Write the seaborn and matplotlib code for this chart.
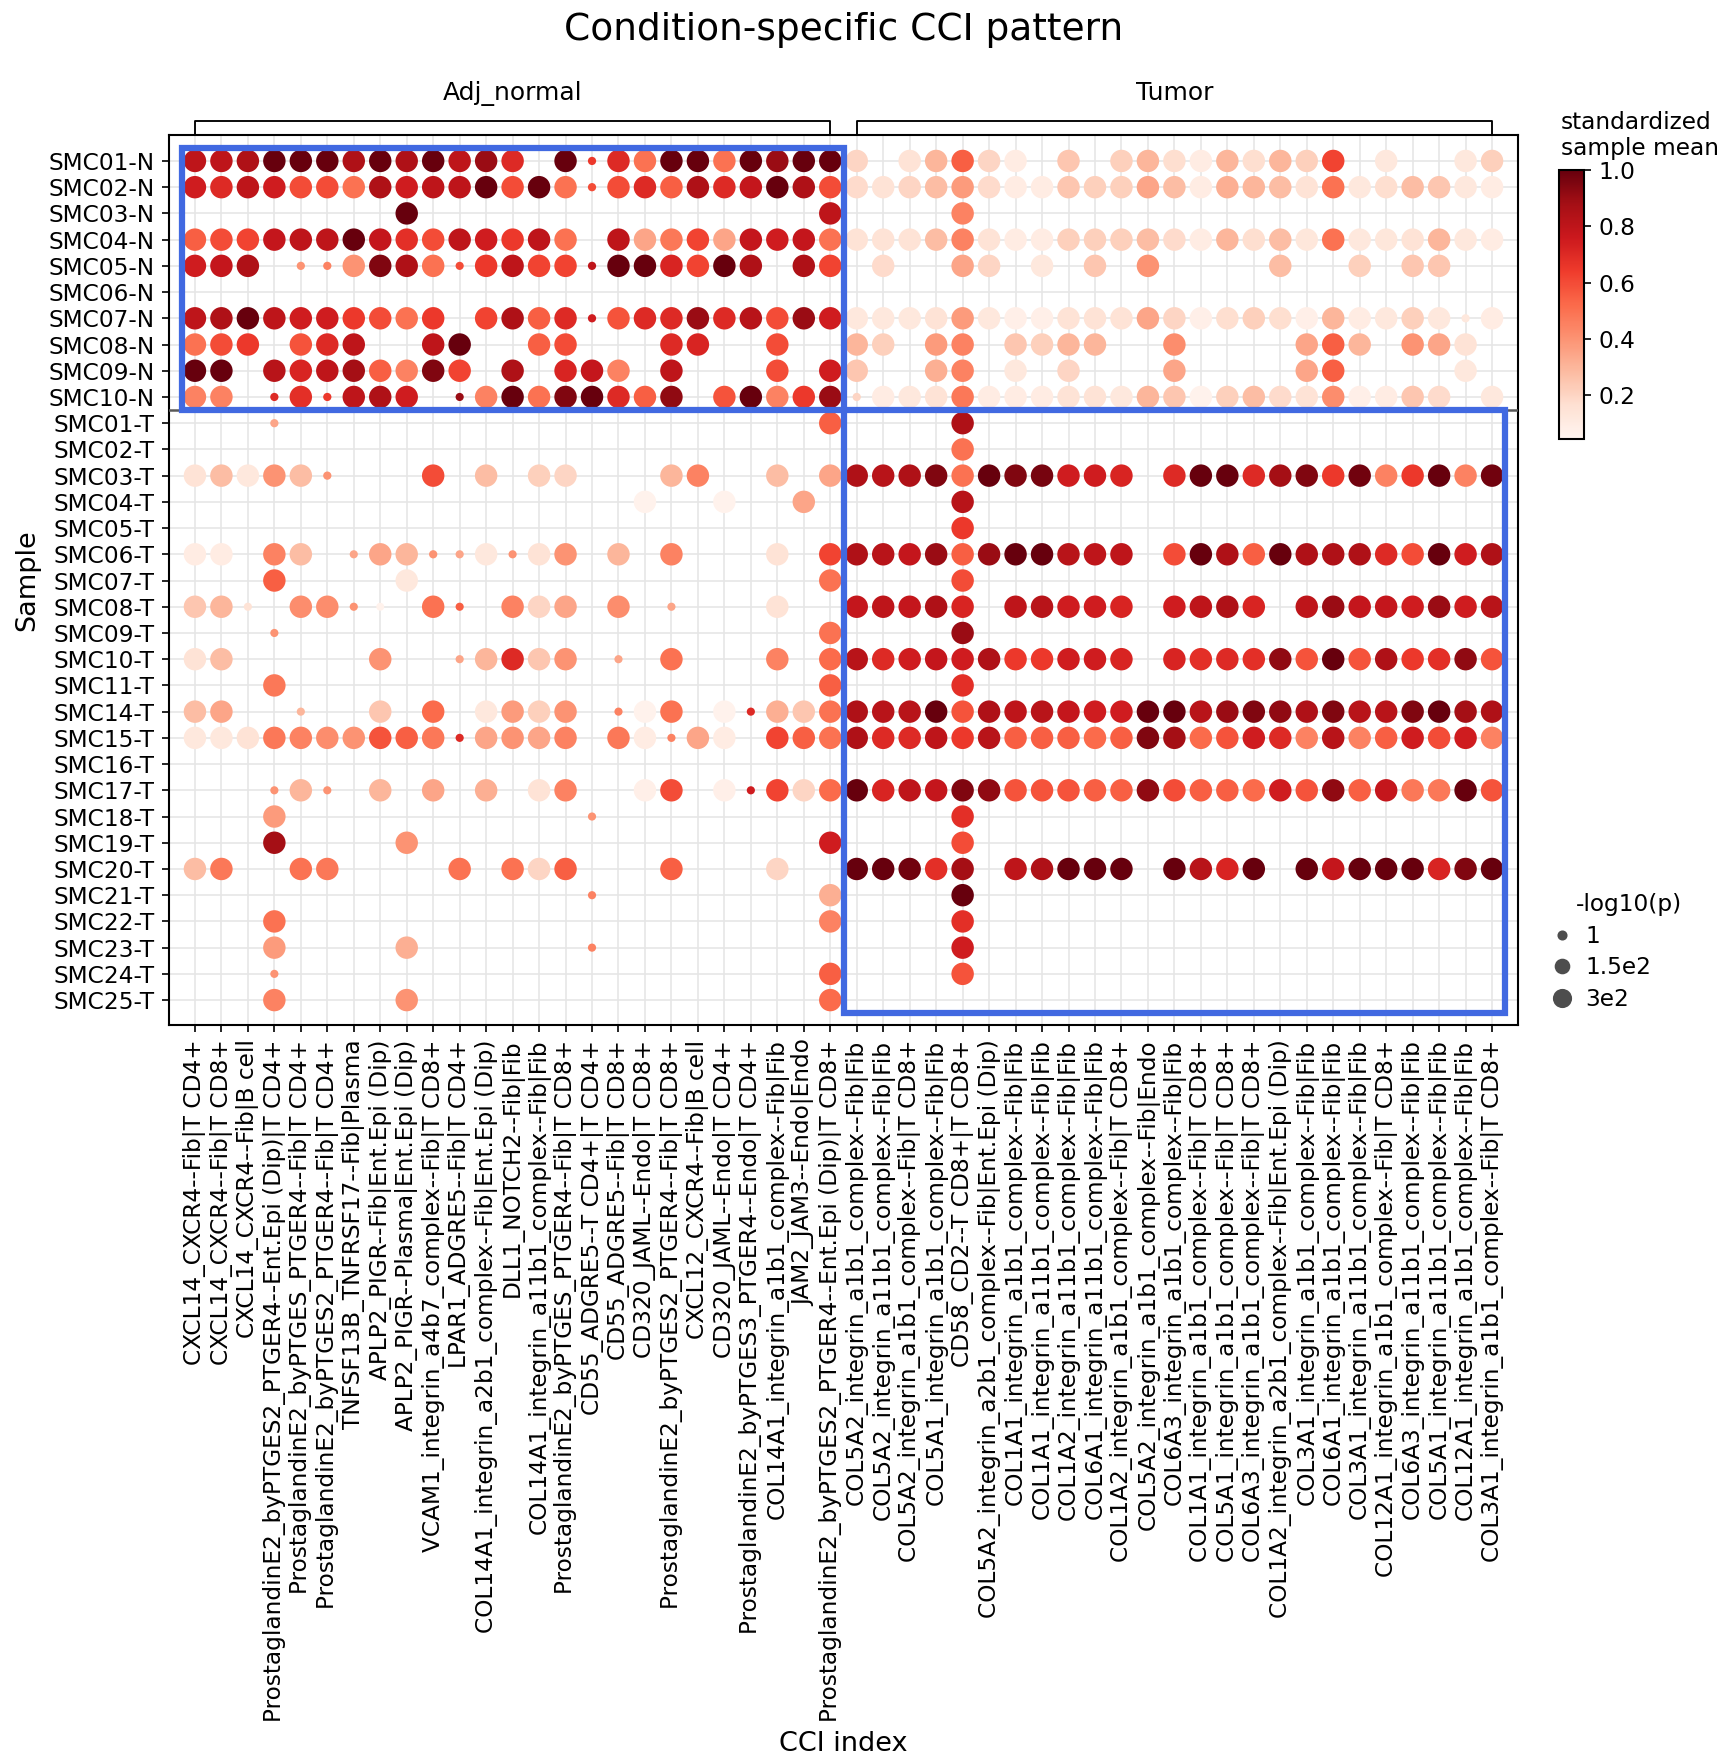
import numpy as np
import pandas as pd
import matplotlib
matplotlib.use("Agg")
import matplotlib.pyplot as plt
import matplotlib.transforms as mtransforms
from matplotlib.patches import Rectangle
from matplotlib.lines import Line2D
from matplotlib.colors import Normalize
from matplotlib.cm import ScalarMappable
import seaborn as sns

# ---------------- data ----------------
groups = ["Adj_normal", "Tumor"]

cci_adj_normal = [
    "CXCL14_CXCR4--Fib|T CD4+",
    "CXCL14_CXCR4--Fib|T CD8+",
    "CXCL14_CXCR4--Fib|B cell",
    "ProstaglandinE2_byPTGES2_PTGER4--Ent.Epi (Dip)|T CD4+",
    "ProstaglandinE2_byPTGES_PTGER4--Fib|T CD4+",
    "ProstaglandinE2_byPTGES2_PTGER4--Fib|T CD4+",
    "TNFSF13B_TNFRSF17--Fib|Plasma",
    "APLP2_PIGR--Fib|Ent.Epi (Dip)",
    "APLP2_PIGR--Plasma|Ent.Epi (Dip)",
    "VCAM1_integrin_a4b7_complex--Fib|T CD8+",
    "LPAR1_ADGRE5--Fib|T CD4+",
    "COL14A1_integrin_a2b1_complex--Fib|Ent.Epi (Dip)",
    "DLL1_NOTCH2--Fib|Fib",
    "COL14A1_integrin_a11b1_complex--Fib|Fib",
    "ProstaglandinE2_byPTGES_PTGER4--Fib|T CD8+",
    "CD55_ADGRE5--T CD4+|T CD4+",
    "CD55_ADGRE5--Fib|T CD8+",
    "CD320_JAML--Endo|T CD8+",
    "ProstaglandinE2_byPTGES2_PTGER4--Fib|T CD8+",
    "CXCL12_CXCR4--Fib|B cell",
    "CD320_JAML--Endo|T CD4+",
    "ProstaglandinE2_byPTGES3_PTGER4--Endo|T CD4+",
    "COL14A1_integrin_a1b1_complex--Fib|Fib",
    "JAM2_JAM3--Endo|Endo",
    "ProstaglandinE2_byPTGES2_PTGER4--Ent.Epi (Dip)|T CD8+",
]

cci_tumor = [
    "COL5A2_integrin_a1b1_complex--Fib|Fib",
    "COL5A2_integrin_a11b1_complex--Fib|Fib",
    "COL5A2_integrin_a1b1_complex--Fib|T CD8+",
    "COL5A1_integrin_a1b1_complex--Fib|Fib",
    "CD58_CD2--T CD8+|T CD8+",
    "COL5A2_integrin_a2b1_complex--Fib|Ent.Epi (Dip)",
    "COL1A1_integrin_a1b1_complex--Fib|Fib",
    "COL1A1_integrin_a11b1_complex--Fib|Fib",
    "COL1A2_integrin_a11b1_complex--Fib|Fib",
    "COL6A1_integrin_a11b1_complex--Fib|Fib",
    "COL1A2_integrin_a1b1_complex--Fib|T CD8+",
    "COL5A2_integrin_a1b1_complex--Fib|Endo",
    "COL6A3_integrin_a1b1_complex--Fib|Fib",
    "COL1A1_integrin_a1b1_complex--Fib|T CD8+",
    "COL5A1_integrin_a1b1_complex--Fib|T CD8+",
    "COL6A3_integrin_a1b1_complex--Fib|T CD8+",
    "COL1A2_integrin_a2b1_complex--Fib|Ent.Epi (Dip)",
    "COL3A1_integrin_a1b1_complex--Fib|Fib",
    "COL6A1_integrin_a1b1_complex--Fib|Fib",
    "COL3A1_integrin_a11b1_complex--Fib|Fib",
    "COL12A1_integrin_a1b1_complex--Fib|T CD8+",
    "COL6A3_integrin_a11b1_complex--Fib|Fib",
    "COL5A1_integrin_a11b1_complex--Fib|Fib",
    "COL12A1_integrin_a1b1_complex--Fib|Fib",
    "COL3A1_integrin_a1b1_complex--Fib|T CD8+",
]

samples_normal = ["SMC01-N", "SMC02-N", "SMC03-N", "SMC04-N", "SMC05-N",
                  "SMC06-N", "SMC07-N", "SMC08-N", "SMC09-N", "SMC10-N"]
samples_tumor = ["SMC01-T", "SMC02-T", "SMC03-T", "SMC04-T", "SMC05-T",
                 "SMC06-T", "SMC07-T", "SMC08-T", "SMC09-T", "SMC10-T",
                 "SMC11-T", "SMC14-T", "SMC15-T", "SMC16-T", "SMC17-T",
                 "SMC18-T", "SMC19-T", "SMC20-T", "SMC21-T", "SMC22-T",
                 "SMC23-T", "SMC24-T", "SMC25-T"]

colorbar_ticks = [0.2, 0.4, 0.6, 0.8, 1.0]
size_legend_labels = ["1", "1.5e2", "3e2"]

S = 300  # capped -log10(p)

# standardized sample mean per sample (50 CCIs: 25 Adj_normal + 25 Tumor); 0 = not detected
mean_SMC01_N = [.80,.80,.85,1.0,1.0,1.0,.85,1.0,.85,1.0, .80,.90,.70,0,1.0,.65,.70,.50,1.0,1.0, .50,1.0,.90,1.0,1.0,
                .20,0,.15,.30,.55,.20,.10,0,.25,0, .22,.30,.17,.10,.30,.17,.30,.22,.62,0, .12,0,0,.12,.22]
mean_SMC02_N = [.75,.70,.80,.75,.60,.60,.50,.85,.75,.80, .80,1.0,.60,1.0,.50,.60,.60,.70,.55,.85, .70,.78,1.0,.85,.60,
                .18,.15,.20,.28,.38,.18,.10,.10,.25,.22, .22,.35,.28,.10,.32,.30,.28,.15,.50,.12, .17,.28,.25,.12,.10]
mean_SMC03_N = [0,0,0,0,0,0,0,0,1.0,0, 0,0,0,0,0,0,0,0,0,0, 0,0,0,0,.80,
                0,0,0,0,.45,0,0,0,0,0, 0,0,0,0,0,0,0,0,0,0, 0,0,0,0,0]
mean_SMC04_N = [.55,.60,.62,.78,.80,.80,1.0,.78,.68,.60, .80,.75,.65,.80,.50,0,.80,.35,.48,.62, .35,.78,.75,.78,.50,
                .15,.15,.15,.28,.45,.15,.10,.10,.22,.22, .22,.28,.18,.10,.30,.17,.28,.13,.50,.12, .13,.15,.30,.12,.10]
mean_SMC05_N = [.75,.78,.85,0,.40,.45,.40,.95,.85,.50, .60,.65,.80,.62,.62,.80,1.0,1.0,.72,.62, 1.0,.85,0,.85,.62,
                0,.18,0,0,.35,.20,0,.12,0,.25, 0,.40,0,0,0,0,.28,0,0,.22, 0,.25,.25,0,0]
mean_SMC06_N = [0,0,0,0,0,0,0,0,0,0, 0,0,0,0,0,0,0,0,0,0, 0,0,0,0,0,
                0,0,0,0,0,0,0,0,0,0, 0,0,0,0,0,0,0,0,0,0, 0,0,0,0,0]
mean_SMC07_N = [.80,.85,1.0,.80,.75,.75,.65,.60,.50,.65, 0,.62,.85,.55,.70,.75,.58,.70,.70,.90, .70,.82,.60,.90,.75,
                .12,.12,.12,.15,.38,.12,.08,.08,.15,.15, .15,.35,.20,.08,.17,.22,.17,.08,.30,.10, .12,.22,.12,.12,.10]
mean_SMC08_N = [.50,.60,.65,0,.58,.70,.80,0,0,.80, 1.0,0,0,.55,.60,0,0,0,.70,.72, 0,0,.60,0,0,
                .30,.22,0,.38,.45,0,.25,.22,.30,.30, 0,0,.42,0,0,0,0,.35,.55,.30, 0,.40,.35,.15,0]
mean_SMC09_N = [1.0,1.0,0,.82,.72,.80,.88,.55,.45,.95, .62,0,.85,0,.72,.78,.45,0,.80,0, 0,0,.60,0,.75,
                .25,0,0,.32,.45,0,.12,0,.20,0, 0,0,.35,0,0,0,0,.35,.55,0, 0,0,0,.12,0]
mean_SMC10_N = [.45,.45,0,.70,.68,.65,.80,.85,.75,0, .90,.45,1.0,.50,.95,1.0,.70,.55,.92,0, .58,1.0,.45,.65,.90,
                .20,.10,.12,.15,.48,.10,.10,.10,.15,.15, .12,.30,.25,.06,.22,.28,.18,.15,.42,.08, .10,.25,.18,0,.12]
mean_SMC01_T = [0,0,0,.35,0,0,0,0,0,0, 0,0,0,0,0,0,0,0,0,0, 0,0,0,0,.55,
                0,0,0,0,.85,0,0,0,0,0, 0,0,0,0,0,0,0,0,0,0, 0,0,0,0,0]
mean_SMC02_T = [0,0,0,0,0,0,0,0,0,0, 0,0,0,0,0,0,0,0,0,0, 0,0,0,0,0,
                0,0,0,0,.50,0,0,0,0,0, 0,0,0,0,0,0,0,0,0,0, 0,0,0,0,0]
mean_SMC03_T = [.15,.28,.12,.40,.28,.40,0,0,0,.60, 0,.28,0,.22,.20,0,0,0,.30,.45, 0,0,.28,0,.35,
                .85,.82,.85,.95,.50,1.0,.95,.97,.75,.75, .72,0,.70,1.0,1.0,.70,.88,.95,.65,.98, .45,.65,1.0,.45,.98]
mean_SMC04_T = [0,0,0,0,0,0,0,0,0,0, 0,0,0,0,0,0,0,.06,0,0, .06,0,0,.35,0,
                0,0,0,0,.82,0,0,0,0,0, 0,0,0,0,0,0,0,0,0,0, 0,0,0,0,0]
mean_SMC05_T = [0,0,0,0,0,0,0,0,0,0, 0,0,0,0,0,0,0,0,0,0, 0,0,0,0,0,
                0,0,0,0,.65,0,0,0,0,0, 0,0,0,0,0,0,0,0,0,0, 0,0,0,0,0]
mean_SMC06_T = [.10,.10,0,.45,.28,0,.35,.35,.30,.40, .35,.12,.40,.15,.40,0,.30,0,.45,0, 0,0,.15,0,.62,
                .85,.82,.78,.90,.55,.90,1.0,1.0,.82,.80, .80,0,.60,1.0,.85,.55,1.0,.85,.85,.85, .70,.60,1.0,.75,.85]
mean_SMC07_T = [0,0,0,.55,0,0,0,0,.12,0, 0,0,0,0,0,0,0,0,0,0, 0,0,0,0,.50,
                0,0,0,0,.60,0,0,0,0,0, 0,0,0,0,0,0,0,0,0,0, 0,0,0,0,0]
mean_SMC08_T = [.25,.30,.15,0,.42,.42,.40,.06,0,.50, .55,0,.45,.20,.35,0,.42,0,.35,0, 0,0,.15,0,0,
                .78,.80,.78,.85,.72,0,.80,.82,.75,.75, .72,0,.75,.80,.85,.72,0,.80,.90,.78, .78,.75,.90,.75,.82]
mean_SMC09_T = [0,0,0,.40,0,0,0,0,0,0, 0,0,0,0,0,0,0,0,0,0, 0,0,0,0,.50,
                0,0,0,0,.90,0,0,0,0,0, 0,0,0,0,0,0,0,0,0,0, 0,0,0,0,0]
mean_SMC10_T = [.15,.28,0,0,0,0,0,.40,0,0, .35,.30,.70,.25,.40,0,.35,0,.50,0, 0,0,.45,0,.52,
                .82,.70,.75,.78,.75,.85,.65,.65,.75,.75, .72,0,.72,.68,.70,.68,.92,.58,1.0,.58, .85,.65,.68,.92,.58]
mean_SMC11_T = [0,0,0,.48,0,0,0,0,0,0, 0,0,0,0,0,0,0,0,0,0, 0,0,0,0,.55,
                0,0,0,0,.68,0,0,0,0,0, 0,0,0,0,0,0,0,0,0,0, 0,0,0,0,0]
mean_SMC14_T = [.28,.35,0,0,.30,0,0,.25,0,.52, 0,.12,.38,.22,.40,0,.45,.06,.50,0, .06,.70,.32,.25,.50,
                .85,.82,.82,1.0,.58,.85,.80,.82,.78,.75, .75,1.0,1.0,.82,.90,.95,.92,.85,.95,.82, .82,.95,1.0,.88,.85]
mean_SMC15_T = [.12,.12,.15,.48,.45,.42,.40,.58,.55,.48, .70,.35,.40,.35,.45,0,.48,.10,.45,.35, .10,0,.62,.55,.50,
                .85,.70,.70,.80,.65,.82,.55,.55,.55,.52, .55,.95,.88,.52,.58,.75,.70,.45,.82,.45, .55,.75,.60,.75,.45]
mean_SMC16_T = [0,0,0,0,0,0,0,0,0,0, 0,0,0,0,0,0,0,0,0,0, 0,0,0,0,0,
                0,0,0,0,0,0,0,0,0,0, 0,0,0,0,0,0,0,0,0,0, 0,0,0,0,0]
mean_SMC17_T = [0,0,0,.40,.30,.40,0,.30,0,.35, 0,.32,0,.15,.45,0,0,.08,.60,0, .08,.75,.62,.20,.52,
                1.0,.72,.80,.78,.95,.92,.58,.58,.58,.55, .55,.92,.60,.55,.55,.52,.75,.58,.92,.55, .78,.48,.48,1.0,.58]
mean_SMC18_T = [0,0,0,.38,0,0,0,0,0,0, 0,0,0,0,0,.40,0,0,0,0, 0,0,0,0,0,
                0,0,0,0,.68,0,0,0,0,0, 0,0,0,0,0,0,0,0,0,0, 0,0,0,0,0]
mean_SMC19_T = [0,0,0,.88,0,0,0,0,.40,0, 0,0,0,0,0,0,0,0,0,0, 0,0,0,0,.75,
                0,0,0,0,.60,0,0,0,0,0, 0,0,0,0,0,0,0,0,0,0, 0,0,0,0,0]
mean_SMC20_T = [.28,.48,0,0,.50,.48,0,0,0,0, .50,0,.50,.20,.55,0,0,0,.55,0, 0,0,.20,0,0,
                1.0,1.0,.98,.68,.88,0,.80,.85,1.0,1.0, 1.0,0,1.0,.82,.72,1.0,0,1.0,.78,1.0, 1.0,1.0,.72,.95,1.0]
mean_SMC21_T = [0,0,0,0,0,0,0,0,0,0, 0,0,0,0,0,.45,0,0,0,0, 0,0,0,0,.32,
                0,0,0,0,1.0,0,0,0,0,0, 0,0,0,0,0,0,0,0,0,0, 0,0,0,0,0]
mean_SMC22_T = [0,0,0,.50,0,0,0,0,0,0, 0,0,0,0,0,0,0,0,0,0, 0,0,0,0,.45,
                0,0,0,0,.68,0,0,0,0,0, 0,0,0,0,0,0,0,0,0,0, 0,0,0,0,0]
mean_SMC23_T = [0,0,0,.38,0,0,0,0,.32,0, 0,0,0,0,0,.45,0,0,0,0, 0,0,0,0,0,
                0,0,0,0,.75,0,0,0,0,0, 0,0,0,0,0,0,0,0,0,0, 0,0,0,0,0]
mean_SMC24_T = [0,0,0,.40,0,0,0,0,0,0, 0,0,0,0,0,0,0,0,0,0, 0,0,0,0,.55,
                0,0,0,0,.58,0,0,0,0,0, 0,0,0,0,0,0,0,0,0,0, 0,0,0,0,0]
mean_SMC25_T = [0,0,0,.45,0,0,0,0,.40,0, 0,0,0,0,0,0,0,0,0,0, 0,0,0,0,.52,
                0,0,0,0,0,0,0,0,0,0, 0,0,0,0,0,0,0,0,0,0, 0,0,0,0,0]

# -log10(p) per sample (same column order); 0 = not detected
nlp_SMC01_N = [S,S,S,S,S,S,S,S,S,S, S,S,S,0,S,4,S,S,S,S, S,S,S,S,S,
               S,0,S,S,S,S,S,0,S,0, S,S,S,S,S,S,S,S,S,0, S,0,0,S,S]
nlp_SMC02_N = [S,S,S,S,S,S,S,S,S,S, S,S,S,S,S,4,S,S,S,S, S,S,S,S,S,
               S,S,S,S,S,S,S,S,S,S, S,S,S,S,S,S,S,S,S,S, S,S,S,S,S]
nlp_SMC03_N = [0,0,0,0,0,0,0,0,S,0, 0,0,0,0,0,0,0,0,0,0, 0,0,0,0,S,
               0,0,0,0,S,0,0,0,0,0, 0,0,0,0,0,0,0,0,0,0, 0,0,0,0,0]
nlp_SMC04_N = [S,S,S,S,S,S,S,S,S,S, S,S,S,S,S,0,S,S,S,S, S,S,S,S,S,
               S,S,S,S,S,S,S,S,S,S, S,S,S,S,S,S,S,S,S,S, S,S,S,S,S]
nlp_SMC05_N = [S,S,S,0,4,4,S,S,S,S, 3,S,S,S,S,4,S,S,S,S, S,S,0,S,S,
               0,S,0,0,S,S,0,S,0,S, 0,S,0,0,0,0,S,0,0,S, 0,S,S,0,0]
nlp_SMC06_N = [0,0,0,0,0,0,0,0,0,0, 0,0,0,0,0,0,0,0,0,0, 0,0,0,0,0,
               0,0,0,0,0,0,0,0,0,0, 0,0,0,0,0,0,0,0,0,0, 0,0,0,0,0]
nlp_SMC07_N = [S,S,S,S,S,S,S,S,S,S, 0,S,S,S,S,4,S,S,S,S, S,S,S,S,S,
               S,S,S,S,S,S,S,S,S,S, S,S,S,S,S,S,S,S,S,S, S,S,S,4,S]
nlp_SMC08_N = [S,S,S,0,S,S,S,0,0,S, S,0,0,S,S,0,0,0,S,S, 0,0,S,0,0,
               S,S,0,S,S,0,S,S,S,S, 0,0,S,0,0,0,0,S,S,S, 0,S,S,S,0]
nlp_SMC09_N = [S,S,0,S,S,S,S,S,S,S, S,0,S,0,S,S,S,0,S,0, 0,0,S,0,S,
               S,0,0,S,S,0,S,0,S,0, 0,0,S,0,0,0,0,S,S,0, 0,0,0,S,0]
nlp_SMC10_N = [S,S,0,4,S,4,S,S,S,0, 3,S,S,S,S,S,S,S,S,0, S,S,S,S,S,
               4,S,S,S,S,S,S,S,S,S, S,S,S,S,S,S,S,S,S,S, S,S,S,0,S]
nlp_SMC01_T = [0,0,0,4,0,0,0,0,0,0, 0,0,0,0,0,0,0,0,0,0, 0,0,0,0,S,
               0,0,0,0,S,0,0,0,0,0, 0,0,0,0,0,0,0,0,0,0, 0,0,0,0,0]
nlp_SMC02_T = [0,0,0,0,0,0,0,0,0,0, 0,0,0,0,0,0,0,0,0,0, 0,0,0,0,0,
               0,0,0,0,S,0,0,0,0,0, 0,0,0,0,0,0,0,0,0,0, 0,0,0,0,0]
nlp_SMC03_T = [S,S,S,S,S,4,0,0,0,S, 0,S,0,S,S,0,0,0,S,S, 0,0,S,0,S,
               S,S,S,S,S,S,S,S,S,S, S,0,S,S,S,S,S,S,S,S, S,S,S,S,S]
nlp_SMC04_T = [0,0,0,0,0,0,0,0,0,0, 0,0,0,0,0,0,0,S,0,0, S,0,0,S,0,
               0,0,0,0,S,0,0,0,0,0, 0,0,0,0,0,0,0,0,0,0, 0,0,0,0,0]
nlp_SMC05_T = [0,0,0,0,0,0,0,0,0,0, 0,0,0,0,0,0,0,0,0,0, 0,0,0,0,0,
               0,0,0,0,S,0,0,0,0,0, 0,0,0,0,0,0,0,0,0,0, 0,0,0,0,0]
nlp_SMC06_T = [S,S,0,S,S,0,3,S,S,4, 3,S,3,S,S,0,S,0,S,0, 0,0,S,0,S,
               S,S,S,S,S,S,S,S,S,S, S,0,S,S,S,S,S,S,S,S, S,S,S,S,S]
nlp_SMC07_T = [0,0,0,S,0,0,0,0,S,0, 0,0,0,0,0,0,0,0,0,0, 0,0,0,0,S,
               0,0,0,0,S,0,0,0,0,0, 0,0,0,0,0,0,0,0,0,0, 0,0,0,0,0]
nlp_SMC08_T = [S,S,3,0,S,S,3,1,0,S, 3,0,S,S,S,0,S,0,3,0, 0,0,S,0,0,
               S,S,S,S,S,0,S,S,S,S, S,0,S,S,S,S,0,S,S,S, S,S,S,S,S]
nlp_SMC09_T = [0,0,0,3,0,0,0,0,0,0, 0,0,0,0,0,0,0,0,0,0, 0,0,0,0,S,
               0,0,0,0,S,0,0,0,0,0, 0,0,0,0,0,0,0,0,0,0, 0,0,0,0,0]
nlp_SMC10_T = [S,S,0,0,0,0,0,S,0,0, 3,S,S,S,S,0,3,0,S,0, 0,0,S,0,S,
               S,S,S,S,S,S,S,S,S,S, S,0,S,S,S,S,S,S,S,S, S,S,S,S,S]
nlp_SMC11_T = [0,0,0,S,0,0,0,0,0,0, 0,0,0,0,0,0,0,0,0,0, 0,0,0,0,S,
               0,0,0,0,S,0,0,0,0,0, 0,0,0,0,0,0,0,0,0,0, 0,0,0,0,0]
nlp_SMC14_T = [S,S,0,0,3,0,0,S,0,S, 0,S,S,S,S,0,3,S,S,0, S,3,S,S,S,
               S,S,S,S,S,S,S,S,S,S, S,S,S,S,S,S,S,S,S,S, S,S,S,S,S]
nlp_SMC15_T = [S,S,S,S,S,S,S,S,S,S, 3,S,S,S,S,0,S,S,3,S, S,0,S,S,S,
               S,S,S,S,S,S,S,S,S,S, S,S,S,S,S,S,S,S,S,S, S,S,S,S,S]
nlp_SMC16_T = [0,0,0,0,0,0,0,0,0,0, 0,0,0,0,0,0,0,0,0,0, 0,0,0,0,0,
               0,0,0,0,0,0,0,0,0,0, 0,0,0,0,0,0,0,0,0,0, 0,0,0,0,0]
nlp_SMC17_T = [0,0,0,3,S,3,0,S,0,S, 0,S,0,S,S,0,0,S,S,0, S,3,S,S,S,
               S,S,S,S,S,S,S,S,S,S, S,S,S,S,S,S,S,S,S,S, S,S,S,S,S]
nlp_SMC18_T = [0,0,0,S,0,0,0,0,0,0, 0,0,0,0,0,3,0,0,0,0, 0,0,0,0,0,
               0,0,0,0,S,0,0,0,0,0, 0,0,0,0,0,0,0,0,0,0, 0,0,0,0,0]
nlp_SMC19_T = [0,0,0,S,0,0,0,0,S,0, 0,0,0,0,0,0,0,0,0,0, 0,0,0,0,S,
               0,0,0,0,S,0,0,0,0,0, 0,0,0,0,0,0,0,0,0,0, 0,0,0,0,0]
nlp_SMC20_T = [S,S,0,0,S,S,0,0,0,0, S,0,S,S,S,0,0,0,S,0, 0,0,S,0,0,
               S,S,S,S,S,0,S,S,S,S, S,0,S,S,S,S,0,S,S,S, S,S,S,S,S]
nlp_SMC21_T = [0,0,0,0,0,0,0,0,0,0, 0,0,0,0,0,3,0,0,0,0, 0,0,0,0,S,
               0,0,0,0,S,0,0,0,0,0, 0,0,0,0,0,0,0,0,0,0, 0,0,0,0,0]
nlp_SMC22_T = [0,0,0,S,0,0,0,0,0,0, 0,0,0,0,0,0,0,0,0,0, 0,0,0,0,S,
               0,0,0,0,S,0,0,0,0,0, 0,0,0,0,0,0,0,0,0,0, 0,0,0,0,0]
nlp_SMC23_T = [0,0,0,S,0,0,0,0,S,0, 0,0,0,0,0,3,0,0,0,0, 0,0,0,0,0,
               0,0,0,0,S,0,0,0,0,0, 0,0,0,0,0,0,0,0,0,0, 0,0,0,0,0]
nlp_SMC24_T = [0,0,0,3,0,0,0,0,0,0, 0,0,0,0,0,0,0,0,0,0, 0,0,0,0,S,
               0,0,0,0,S,0,0,0,0,0, 0,0,0,0,0,0,0,0,0,0, 0,0,0,0,0]
nlp_SMC25_T = [0,0,0,S,0,0,0,0,S,0, 0,0,0,0,0,0,0,0,0,0, 0,0,0,0,S,
               0,0,0,0,0,0,0,0,0,0, 0,0,0,0,0,0,0,0,0,0, 0,0,0,0,0]

# ---------------- table for seaborn ----------------
samples = samples_normal + samples_tumor
cci_all = cci_adj_normal + cci_tumor
g = globals()
records = []
for s in samples:
    key = s.replace("-", "_")
    means = g["mean_" + key]
    nlps = g["nlp_" + key]
    for c, mv, pv in zip(cci_all, means, nlps):
        if mv > 0:
            records.append({"Sample": s, "CCI": c, "mean": mv, "nlp": pv})
df = pd.DataFrame(records)
df["xpos"] = df["CCI"].map({c: i for i, c in enumerate(cci_all)})
df["ypos"] = df["Sample"].map({s: i for i, s in enumerate(samples)})

# ---------------- figure ----------------
W, H, DPI = 1729, 1762, 150
fig = plt.figure(figsize=(W / DPI, H / DPI), dpi=DPI)
plt.rcParams["font.family"] = ["DejaVu Sans"]

ax_l, ax_r, ax_t, ax_b = 169, 1518, 135, 1025
ax = fig.add_axes([ax_l / W, 1 - ax_b / H, (ax_r - ax_l) / W, (ax_b - ax_t) / H])

vmin, vmax = 0.045, 1.0
cmap = plt.get_cmap("Reds")
smin, smax = 14.7, 116.0
sns.scatterplot(data=df, x="xpos", y="ypos", hue="mean", size="nlp",
                palette="Reds", hue_norm=(vmin, vmax),
                sizes=(smin, smax), size_norm=(1, 300),
                linewidth=0, legend=False, ax=ax, zorder=3)

ax.set_xticks(range(len(cci_all)))
ax.set_xticklabels(cci_all, rotation=90, fontsize=11.2)
ax.set_yticks(range(len(samples)))
ax.set_yticklabels(samples, fontsize=11.2)
ax.set_xlim(-0.98, len(cci_all) - 1 + 0.98)
ax.set_ylim(len(samples) - 1 + 0.95, -0.99)
ax.set_xlabel("CCI index", fontsize=13)
ax.set_ylabel("Sample", fontsize=13)
ax.grid(True, color="#e6e6e6", lw=0.8)
ax.set_axisbelow(True)
for sp in ax.spines.values():
    sp.set_linewidth(1.0)

# separator between normal and tumor samples
n_norm = len(samples_normal)
ax.axhline(n_norm - 0.5, color="0.35", lw=1.2, zorder=4)

# highlight rectangles
n_adj = len(cci_adj_normal)
ax.add_patch(Rectangle((-0.5, -0.5), n_adj, n_norm, fill=False,
                       ec="royalblue", lw=3, zorder=5, clip_on=False))
ax.add_patch(Rectangle((n_adj - 0.5, n_norm - 0.5), len(cci_tumor), len(samples_tumor),
                       fill=False, ec="royalblue", lw=3, zorder=5, clip_on=False))

# group brackets on top
trans = mtransforms.blended_transform_factory(ax.transData, ax.transAxes)
yb = 1 + (ax_t - 121) / (ax_b - ax_t)
spans = [(0, n_adj - 1), (n_adj, len(cci_all) - 1)]
for name, (a, b) in zip(groups, spans):
    ax.plot([a, a, b, b], [1.0, yb, yb, 1.0], color="black", lw=0.9,
            transform=trans, clip_on=False)
    ax.text((a + b) / 2, 1 + (ax_t - 93) / (ax_b - ax_t), name, transform=trans,
            ha="center", va="center", fontsize=12)

# title
fig.text(((ax_l + ax_r) / 2) / W, 1 - 30 / H, "Condition-specific CCI pattern",
         ha="center", va="center", fontsize=18)

# colorbar
cax = fig.add_axes([1559 / W, 1 - 439 / H, 25 / W, 269 / H])
sm = ScalarMappable(norm=Normalize(vmin, vmax), cmap=cmap)
cb = fig.colorbar(sm, cax=cax, ticks=colorbar_ticks)
cb.ax.tick_params(labelsize=11.2)
cb.outline.set_linewidth(1.0)
fig.text(1561 / W, 1 - 160 / H, "standardized\nsample mean", ha="left", va="bottom",
         fontsize=11.2, linespacing=1.15)

# size legend
leg_ms = [3.84, 6.5, 8.2]
handles = [Line2D([], [], ls="", marker="o", color="0.3", markersize=m)
           for m in leg_ms]
fig.text(1576 / W, 1 - 904 / H, "-log10(p)", ha="left", va="center", fontsize=11.2)
fig.legend(handles, size_legend_labels, loc="upper left",
           bbox_to_anchor=(1536 / W, 1 - 909 / H), frameon=False,
           fontsize=11.2, labelspacing=0.35,
           handlelength=0.8, handletextpad=0.6, borderpad=0.2)

fig.savefig("out.png", dpi=DPI)
